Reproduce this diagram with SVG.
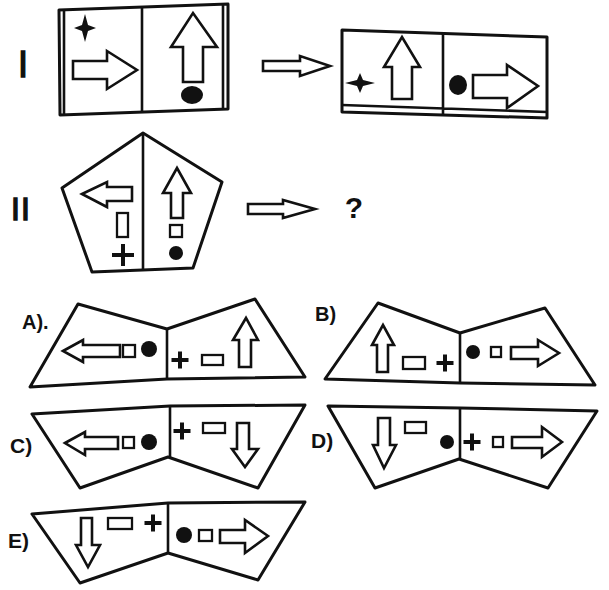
<svg xmlns="http://www.w3.org/2000/svg" width="609" height="590" viewBox="0 0 609 590">
  <style>
    .frame{fill:none;stroke:#111;stroke-width:3;stroke-linejoin:round}
    .div{stroke:#111;stroke-width:2.6}
    .arr{fill:#fff;stroke:#111;stroke-width:2.6;stroke-linejoin:miter}
    .box{fill:#fff;stroke:#111;stroke-width:2.3}
    .dot{fill:#111}
    .plus{stroke:#111;stroke-width:4;fill:none}
    .lbl{font-family:"Liberation Sans",Arial,sans-serif;font-weight:bold;fill:#111}
    .num{font-family:"Liberation Sans",Arial,sans-serif;fill:#111;stroke:#111;stroke-width:1.4}
  </style>
  <defs>
    <g id="plus"><path class="plus" d="M-8.5,0H8.5M0,-8.5V8.5"/></g>
  </defs>
  <rect width="609" height="590" fill="#fff"/>

  <!-- row I: source tile -->
  <g id="fig-I">
    <text class="num" x="23" y="77" font-size="36" text-anchor="middle">I</text>
    <path class="frame" d="M59,10 L228,4 L228,109 L60,115 Z"/>
    <path class="div" d="M64,10V114M223,5V109M142,7V112"/>
    <path class="dot" d="M85,14 L88,25 L96,28 L88,31 L85,42 L82,31 L74,28 L82,25 Z"/>
    <polygon class="arr" points="73,61 107,61 107,51 137,70 107,89 107,79 73,79"/>
    <polygon class="arr" points="183,82 183,47 171,47 193,13 217,47 203,47 203,82"/>
    <ellipse class="dot" cx="192" cy="95" rx="11" ry="9"/>
  </g>

  <!-- row I: result tile -->
  <g id="fig-I-result">
    <path class="frame" d="M342,30 L547,37 L547,118 L342,112 Z"/>
    <path class="div" d="M342,105 L547,112M443,34V115"/>
    <path class="dot" d="M360,73 L363,80 L375,83 L363,86 L360,93 L357,86 L345,83 L357,80 Z"/>
    <polygon class="arr" points="392,99 392,67 384,67 402,37 420,67 412,67 412,99"/>
    <ellipse class="dot" cx="458" cy="85" rx="9" ry="10"/>
    <polygon class="arr" points="473,75 507,75 507,65 538,86 507,108 507,98 473,98"/>
  </g>

  <!-- row II: pentagon -->
  <g id="fig-II">
    <text class="num" x="21" y="220" font-size="32" text-anchor="middle" style="letter-spacing:1px">II</text>
    <polygon class="frame" points="143,133 222,182 193,268 92,272 62,188"/>
    <path class="div" d="M143,133V270"/>
    <polygon class="arr" points="82,194 107,182 107,187 132,187 132,201 107,201 107,207"/>
    <rect class="box" x="117" y="213" width="11" height="24"/>
    <path class="plus" d="M112,255H134M123,244V266"/>
    <polygon class="arr" points="171,218 171,193 163,193 177,168 191,193 183,193 183,218"/>
    <rect class="box" x="170" y="225" width="12" height="12"/>
    <circle class="dot" cx="176" cy="253" r="7"/>
    <text class="lbl" x="354" y="218" font-size="30" text-anchor="middle">?</text>
  </g>

  <!-- transformation arrows -->
  <g id="connectors">
    <polygon class="arr" points="263,61 300,61 300,56 330,66 300,76 300,71 263,71"/>
    <polygon class="arr" points="248,204 283,204 283,200 315,209 283,218 283,214 248,214"/>
  </g>

  <!-- option A -->
  <g id="opt-A">
    <text class="lbl" x="22" y="329" font-size="20">A).</text>
    <polygon class="frame" points="78,304 167,329 255,299 305,377 167,379 30,387"/>
    <path class="div" d="M167,329V379"/>
    <polygon class="arr" points="63,351 83,340 83,345 120,345 120,357 83,357 83,362"/>
    <rect class="box" x="123" y="345" width="12" height="12"/>
    <circle class="dot" cx="149" cy="349" r="8"/>
    <use href="#plus" x="180" y="360"/>
    <rect class="box" x="202" y="355" width="21" height="10"/>
    <polygon class="arr" points="239,367 239,340 233,340 246,318 258,340 251,340 251,367"/>
  </g>

  <!-- option B -->
  <g id="opt-B">
    <text class="lbl" x="315" y="321" font-size="20">B)</text>
    <polygon class="frame" points="378,303 460,333 545,308 595,385 460,383 325,379"/>
    <path class="div" d="M460,333V383"/>
    <polygon class="arr" points="377,372 377,345 372,345 383,325 394,345 388,345 388,372"/>
    <rect class="box" x="403" y="357" width="22" height="12"/>
    <use href="#plus" x="445" y="363"/>
    <circle class="dot" cx="473" cy="352" r="7"/>
    <rect class="box" x="491" y="347" width="10" height="10"/>
    <polygon class="arr" points="511,347 538,347 538,340 559,353 538,366 538,359 511,359"/>
  </g>

  <!-- option C -->
  <g id="opt-C">
    <text class="lbl" x="10" y="453" font-size="21">C)</text>
    <polygon class="frame" points="32,414 170,406 305,405 258,488 168,457 80,488"/>
    <path class="div" d="M170,406V457"/>
    <polygon class="arr" points="65,443 85,432 85,437 118,437 118,449 85,449 85,455"/>
    <rect class="box" x="123" y="437" width="11" height="11"/>
    <circle class="dot" cx="149" cy="442" r="8"/>
    <use href="#plus" x="182" y="431"/>
    <rect class="box" x="203" y="423" width="22" height="10"/>
    <polygon class="arr" points="237,423 249,423 249,449 258,449 245,467 232,449 237,449"/>
  </g>

  <!-- option D -->
  <g id="opt-D">
    <text class="lbl" x="311" y="448" font-size="21">D)</text>
    <polygon class="frame" points="328,406 460,408 597,411 548,488 459,459 375,488"/>
    <path class="div" d="M460,408V459"/>
    <polygon class="arr" points="378,418 390,418 390,445 396,445 384,468 373,445 378,445"/>
    <rect class="box" x="405" y="422" width="21" height="11"/>
    <circle class="dot" cx="447" cy="442" r="7"/>
    <use href="#plus" x="472" y="442"/>
    <rect class="box" x="493" y="437" width="10" height="10"/>
    <polygon class="arr" points="512,437 542,437 542,427 562,442 542,457 542,448 512,448"/>
  </g>

  <!-- option E -->
  <g id="opt-E">
    <text class="lbl" x="8" y="548" font-size="21">E)</text>
    <polygon class="frame" points="32,514 168,503 305,502 258,580 168,553 80,583"/>
    <path class="div" d="M168,503V553"/>
    <polygon class="arr" points="81,518 92,518 92,545 100,545 88,567 76,545 81,545"/>
    <rect class="box" x="108" y="518" width="24" height="11"/>
    <use href="#plus" x="153" y="523"/>
    <circle class="dot" cx="184" cy="535" r="8"/>
    <rect class="box" x="199" y="530" width="13" height="11"/>
    <polygon class="arr" points="220,530 245,530 245,520 268,536 245,553 245,543 220,543"/>
  </g>
</svg>
